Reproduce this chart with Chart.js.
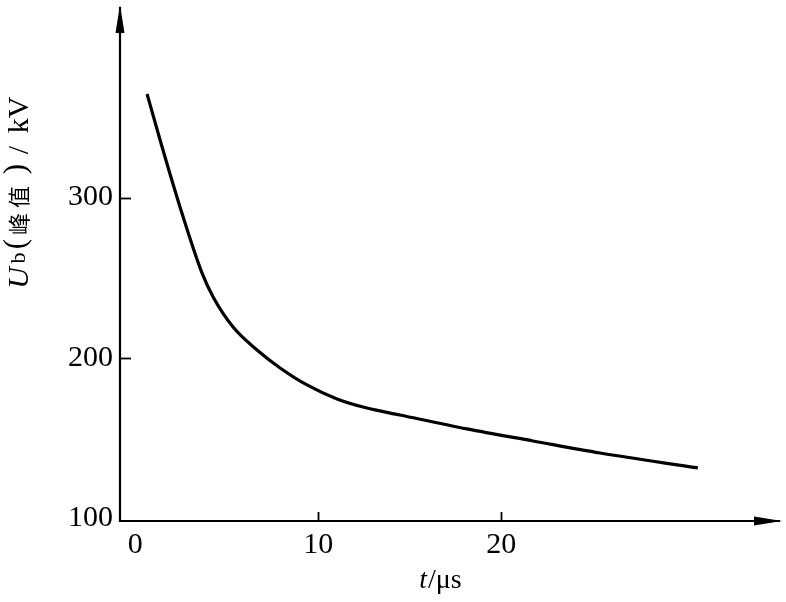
<!DOCTYPE html>
<html>
<head>
<meta charset="utf-8">
<script src="https://cdn.jsdelivr.net/npm/chart.js@4.4.1/dist/chart.umd.min.js"></script>
<style>
    html, body { margin: 0; padding: 0; background: #fff; }
    canvas { display: block; }
</style>
</head>
<body>
<canvas id="ub-chart" width="786" height="602"></canvas>
<script>
// t (μs) and peak Ub (kV)
const time_us = [0.64, 1.35, 2.44, 3.64, 4.25, 5.34, 6.65, 7.91, 9.38, 11.02, 12.66, 14.46, 18.12, 21.73, 25.39, 30.74];
const ub_kv = [364.5, 335.8, 294.1, 253.0, 238.0, 219.3, 205.0, 193.8, 183.2, 174.5, 168.8, 164.5, 155.8, 148.3, 140.8, 131.5];

const x_ticks = [0, 10, 20];
const y_ticks = [100, 200, 300];

const serif = "'Liberation Serif', 'DejaVu Serif', serif";
const cjk = "'Noto Sans CJK SC', sans-serif";

const drawArrow = (ctx, tipX, tipY, dir) => {
    // dir: 'up' or 'right'
    const len = 28, half = 4.5;
    ctx.beginPath();
    if (dir === 'up') {
        ctx.moveTo(tipX, tipY);
        ctx.lineTo(tipX + half, tipY + len);
        ctx.lineTo(tipX - half, tipY + len);
    } else {
        ctx.moveTo(tipX, tipY);
        ctx.lineTo(tipX - len, tipY - half);
        ctx.lineTo(tipX - len, tipY + half);
    }
    ctx.closePath();
    ctx.fill();
}

const rotText = (ctx, text, font, cy, bx, baseline) => {
    ctx.save();
    ctx.translate(bx, cy);
    ctx.rotate(-Math.PI / 2);
    ctx.font = font;
    ctx.textAlign = 'center';
    ctx.textBaseline = baseline || 'alphabetic';
    ctx.fillText(text, 0, 0);
    ctx.restore();
}

const noPadding = (axis) => {
    axis.paddingTop = 0;
    axis.paddingBottom = 0;
    axis.paddingLeft = 0;
    axis.paddingRight = 0;
}

const axesPlugin = {
    id: 'axes-arrows',
    afterDraw: (chart) => {
        const ctx = chart.ctx;
        const {top, left, right, bottom} = chart.chartArea;
        const xs = chart.scales.x, ys = chart.scales.y;
        ctx.save();
        ctx.strokeStyle = '#000';
        ctx.fillStyle = '#000';
        ctx.lineWidth = 2.2;
        // axis lines
        ctx.beginPath();
        ctx.moveTo(left, top + 2);
        ctx.lineTo(left, bottom);
        ctx.lineTo(right - 2, bottom);
        ctx.stroke();
        drawArrow(ctx, left, top, 'up');
        drawArrow(ctx, right, bottom, 'right');

        // inward tick marks (not at the origin)
        ctx.lineWidth = 1.8;
        x_ticks.slice(1).forEach(v => {
            const px = Math.round(xs.getPixelForValue(v)) + 0.5;
            ctx.beginPath();
            ctx.moveTo(px, bottom);
            ctx.lineTo(px, bottom - 9);
            ctx.stroke();
        });
        y_ticks.slice(1).forEach(v => {
            const py = Math.round(ys.getPixelForValue(v)) + 0.5;
            ctx.beginPath();
            ctx.moveTo(left, py);
            ctx.lineTo(left + 11, py);
            ctx.stroke();
        });

        // y title: U_b（峰值）/kV
        rotText(ctx, 'U', 'italic 30px ' + serif, 278, 28);
        rotText(ctx, 'b', '22px ' + serif, 258, 25);
        rotText(ctx, '(', '31px ' + serif, 244, 16.5, 'middle');
        rotText(ctx, '峰', '22px ' + cjk, 224, 18.5, 'middle');
        rotText(ctx, '值', '22px ' + cjk, 197, 18.5, 'middle');
        rotText(ctx, ')', '31px ' + serif, 169, 16.5, 'middle');
        rotText(ctx, '/', '30px ' + serif, 150, 28);
        rotText(ctx, 'kV', '30px ' + serif, 115, 28);

        // x title: t/μs
        ctx.textBaseline = 'alphabetic';
        ctx.textAlign = 'left';
        const fItal = 'italic 28px ' + serif, fReg = '28px ' + serif;
        ctx.font = fItal;
        const wT = ctx.measureText('t').width;
        ctx.font = fReg;
        const wRest = ctx.measureText('/μs').width;
        let x0 = 440 - (wT + wRest) / 2;
        ctx.font = fItal;
        ctx.fillText('t', x0, 588);
        ctx.font = fReg;
        ctx.fillText('/μs', x0 + wT + 1, 588);
        ctx.restore();
    }
}

const chart = new Chart(document.getElementById('ub-chart'), {
    type: 'line',
    data: {
        datasets: [{
            data: time_us.map((t, i) => ({x: t, y: ub_kv[i]})),
            borderColor: '#000',
            borderWidth: 3.2,
            pointRadius: 0,
            fill: false,
            cubicInterpolationMode: 'monotone',
        }]
    },
    options: {
        responsive: false,
        animation: false,
        layout: {
            padding: {top: 5, right: 4, left: 0, bottom: 0}
        },
        plugins: {
            legend: {display: false},
            tooltip: {enabled: false},
        },
        scales: {
            x: {
                type: 'linear',
                min: -0.84,
                max: 35.34,
                grid: {display: false, drawTicks: false},
                border: {display: false},
                afterBuildTicks: (axis) => {
                    axis.ticks = x_ticks.map(v => ({value: v}));
                },
                afterFit: (axis) => {
                    axis.height = 81;
                    noPadding(axis);
                },
                ticks: {
                    color: '#000',
                    padding: 6,
                    maxRotation: 0,
                    font: {family: serif, size: 30},
                }
            },
            y: {
                type: 'linear',
                min: 98.44,
                max: 419.94,
                grid: {display: false, drawTicks: false},
                border: {display: false},
                afterBuildTicks: (axis) => {
                    axis.ticks = y_ticks.map(v => ({value: v}));
                },
                afterFit: (axis) => {
                    axis.width = 120;
                    noPadding(axis);
                },
                ticks: {
                    color: '#000',
                    padding: 7,
                    font: {family: serif, size: 30},
                }
            }
        }
    },
    plugins: [axesPlugin]
});
</script>
</body>
</html>
